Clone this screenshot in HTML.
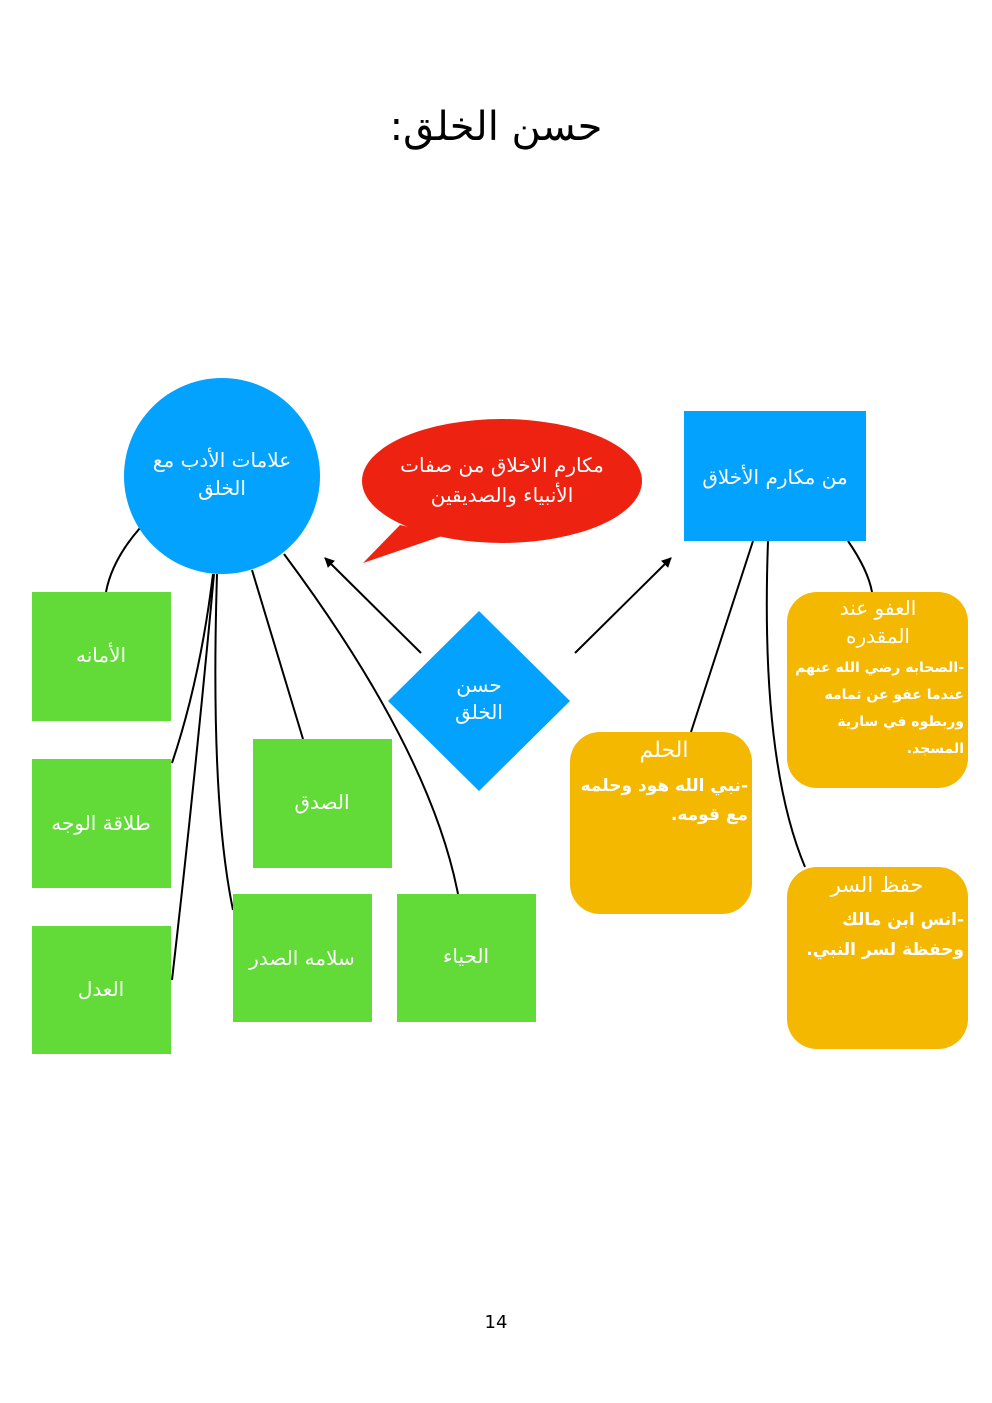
<!DOCTYPE html>
<html><head><meta charset="utf-8"><style>
html,body{margin:0;padding:0;background:#fff}
svg{display:block}
text{font-family:"DejaVu Sans","Liberation Sans",sans-serif}
</style></head><body>
<svg width="992" height="1403" viewBox="0 0 992 1403" xmlns="http://www.w3.org/2000/svg">
<defs><marker id="ah" markerWidth="10" markerHeight="10" refX="9" refY="5" orient="auto" markerUnits="userSpaceOnUse"><path d="M0,0 L10,5 L0,10 z" fill="#000"/></marker></defs>
<text x="496" y="140" font-size="40" text-anchor="middle" fill="#000">:حسن الخلق</text>

<g fill="none" stroke="#000" stroke-width="2">
<path d="M140,528 Q112,560 106,592"/>
<path d="M213,574 Q200,680 172,763"/>
<path d="M214,574 Q195,780 172,980"/>
<path d="M217,574 Q210,800 233,910"/>
<path d="M252,570 L303,739"/>
<path d="M284,554 Q430,750 458,894"/>
<path d="M753,541 L691,732"/>
<path d="M768,541 Q760,760 805,867"/>
<path d="M848,541 Q868,570 872,592"/>
<path d="M421,653 L325,558" marker-end="url(#ah)"/>
<path d="M575,653 L671,558" marker-end="url(#ah)"/>
</g>

<circle cx="222" cy="476" r="98" fill="#02a2fe"/>
<g fill="#fff" font-size="20" text-anchor="middle">
<text x="222" y="467">علامات الأدب مع</text>
<text x="222" y="495">الخلق</text>
</g>

<ellipse cx="502" cy="481" rx="140" ry="62" fill="#ee2210"/>
<path d="M400,525 L363,563 L445,535 z" fill="#ee2210"/>
<g fill="#fff" font-size="20" text-anchor="middle">
<text x="502" y="472">مكارم الاخلاق من صفات</text>
<text x="502" y="502">الأنبياء والصديقين</text>
</g>

<rect x="684" y="411" width="182" height="130" fill="#02a2fe"/>
<text x="775" y="484" font-size="20" fill="#fff" text-anchor="middle">من مكارم الأخلاق</text>

<path d="M479,611 L570,701 L479,791 L388,701 z" fill="#02a2fe"/>
<g fill="#fff" font-size="20" text-anchor="middle">
<text x="479" y="692">حسن</text>
<text x="479" y="719">الخلق</text>
</g>

<g fill="#62da38">
<rect x="32" y="592" width="139" height="129"/>
<rect x="32" y="759" width="139" height="129"/>
<rect x="32" y="926" width="139" height="128"/>
<rect x="253" y="739" width="139" height="129"/>
<rect x="233" y="894" width="139" height="128"/>
<rect x="397" y="894" width="139" height="128"/>
</g>
<g fill="#fff" font-size="20" text-anchor="middle">
<text x="101" y="662">الأمانه</text>
<text x="101" y="830">طلاقة الوجه</text>
<text x="101" y="996">العدل</text>
<text x="322" y="809">الصدق</text>
<text x="302" y="965">سلامه الصدر</text>
<text x="466" y="963">الحياء</text>
</g>

<g fill="#f5b800">
<rect x="787" y="592" width="181" height="196" rx="30"/>
<rect x="570" y="732" width="182" height="182" rx="30"/>
<rect x="787" y="867" width="181" height="182" rx="30"/>
</g>
<g fill="#fff" font-size="20" text-anchor="middle">
<text x="878" y="615">العفو عند</text>
<text x="878" y="643">المقدره</text>
<text x="664" y="757" font-size="22">الحلم</text>
<text x="877" y="892" font-size="21">حفظ السر</text>
</g>
<g fill="#fff" font-size="14" text-anchor="end" font-weight="bold">
<text x="964" y="672">الصحابه رضي الله عنهم-</text>
<text x="964" y="699">عندما عفو عن ثمامه</text>
<text x="964" y="726">وربطوه في سارية</text>
<text x="964" y="753">.المسجد</text>
<text x="748" y="791" font-size="17">نبي الله هود وحلمه-</text>
<text x="748" y="820" font-size="17">.مع قومه</text>
<text x="964" y="925" font-size="17">انس ابن مالك-</text>
<text x="964" y="955" font-size="17">.وحفظة لسر النبي</text>
</g>

<text x="496" y="1328" font-size="18" text-anchor="middle" fill="#000">14</text>
</svg>
</body></html>
